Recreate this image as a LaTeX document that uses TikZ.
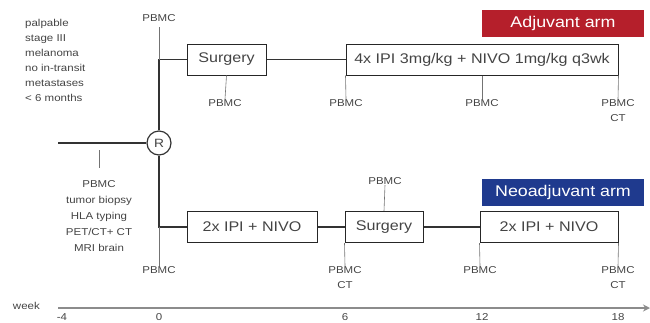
\documentclass[tikz,border=0pt]{standalone}
\usepackage{fontspec}
\setmainfont[FakeStretch=1.15]{Liberation Sans}
\usetikzlibrary{arrows.meta}
\definecolor{adjred}{HTML}{B51F2B}
\definecolor{neoblue}{HTML}{1F3A8E}
\definecolor{txtgray}{HTML}{444444}
\begin{document}
\begin{tikzpicture}[x=1pt,y=-1pt,
  box/.style={draw=black!85,line width=1pt,minimum height=31pt,inner sep=0pt,font=\fontsize{14}{16}\selectfont,text=txtgray},
  arm/.style={fill=#1,text=white,minimum height=27pt,minimum width=162pt,inner sep=0pt,font=\fontsize{15.5}{17}\selectfont},
  lbl/.style={font=\fontsize{10}{15}\selectfont,text=txtgray,align=center,inner sep=0pt},
  lst/.style={font=\fontsize{10}{16}\selectfont,text=txtgray,align=center,inner sep=0pt},
  side/.style={font=\fontsize{10}{15}\selectfont,text=txtgray,align=left,inner sep=0pt},
  tick/.style={draw=black!55,line width=0.6pt},
  main/.style={draw=black!80,line width=1.2pt}]
\useasboundingbox (0,0) rectangle (650,322);
% arm labels
\node[arm=adjred] (adjlab) at (563,23.5) {Adjuvant arm};
\node[arm=neoblue] (neolab) at (563,192) {Neoadjuvant arm};
% left text
\node[side,anchor=north west] (crit) at (25,19) {palpable\\stage III\\melanoma\\no in-transit\\metastases\\< 6 months};
% randomisation
\node[draw=black!80,line width=1.2pt,circle,minimum size=24pt,inner sep=0pt,font=\fontsize{12}{13}\selectfont,text=txtgray] (R) at (159,143) {R};
\coordinate (start) at (58,143);
\draw[main] (start) -- (R);
\coordinate (t0) at (99,150);
\coordinate (t0b) at (99,168);
\draw[tick] (t0) -- (t0b);
\node[lst,anchor=north] (base) at (99,180) {PBMC\\tumor biopsy\\HLA typing\\PET/CT+ CT\\MRI brain};
% top arm
\node[box,minimum width=79pt] (surg1) at (226.5,59.5) {Surgery};
\node[box,minimum width=272pt] (adj) at (482,59.5) {4x IPI 3mg/kg + NIVO 1mg/kg q3wk};
\coordinate (topc) at (159,59.5);
\draw[main] (R) -- (topc) -- (surg1);
\draw[main] (surg1) -- (adj);
\node[lbl,anchor=south] (p0t) at (159,22) {PBMC};
\draw[tick] (p0t.south) ++(0,5) -- (topc);
\node[lbl,anchor=north] (p1) at (225,99) {PBMC};
\draw[tick] (surg1.south) -- (p1.north);
\node[lbl,anchor=north] (p2) at (346,99) {PBMC};
\draw[tick] (adj.south west) -- (p2.north);
\node[lbl,anchor=north] (p3) at (482,99) {PBMC};
\draw[tick] (adj.south) -- (p3.north);
\node[lbl,anchor=north] (p4) at (618,99) {PBMC\\CT};
\draw[tick] (adj.south east) -- (p4.north);
% bottom arm
\node[box,minimum width=130pt] (neo1) at (252,227) {2x IPI + NIVO};
\node[box,minimum width=78pt] (surg2) at (384,227) {Surgery};
\node[box,minimum width=138pt] (neo2) at (549,227) {2x IPI + NIVO};
\coordinate (botc) at (159,227);
\draw[main] (R) -- (botc) -- (neo1);
\draw[main] (neo1) -- (surg2);
\draw[main] (surg2) -- (neo2);
\node[lbl,anchor=north] (q0) at (159,266) {PBMC};
\draw[tick] (botc) -- (q0.north);
\node[lbl,anchor=north] (q1) at (345,266) {PBMC\\CT};
\draw[tick] (surg2.south west) -- (q1.north);
\node[lbl,anchor=north] (q2) at (480,266) {PBMC};
\draw[tick] (neo2.south west) -- (q2.north);
\node[lbl,anchor=north] (q3) at (618,266) {PBMC\\CT};
\draw[tick] (neo2.south east) -- (q3.north);
\node[lbl,anchor=south] (qs) at (385,185) {PBMC};
\draw[tick] (qs.south) -- (surg2.north);
% week axis
\node[lbl,anchor=east] (week) at (40,306) {week};
\coordinate (ax0) at (58,308);
\coordinate (ax1) at (650,308);
\draw[draw=black!45,line width=2.5pt,-{Stealth[length=7pt,width=7pt]}] (ax0) -- (ax1);
\foreach \x/\t in {62/-4,159/0,345/6,482/12,618/18}
  \node[lbl,anchor=north] at (\x,313) {\t};
\end{tikzpicture}
\end{document}
